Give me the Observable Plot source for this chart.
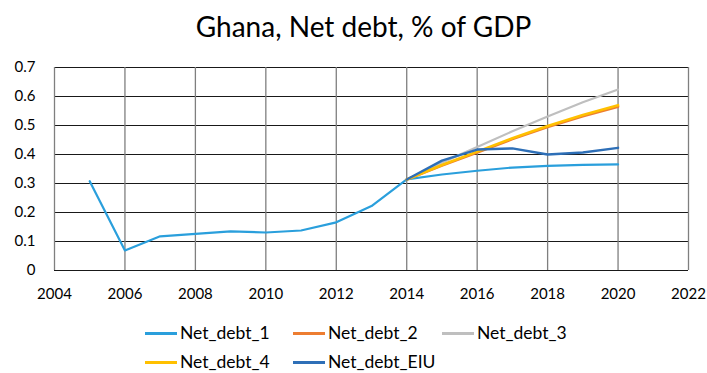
<!DOCTYPE html>
<html>
<head>
<meta charset="utf-8">
<script src="https://cdn.jsdelivr.net/npm/d3@7"></script>
<script src="https://cdn.jsdelivr.net/npm/@observablehq/plot@0.6"></script>
<style>
  html, body { margin: 0; padding: 0; background: #fff; }
  body { width: 707px; height: 373px; overflow: hidden; font-family: Lato, "Open Sans", sans-serif; }
  #title { height: 50px; line-height: 52px; text-align: center; font-size: 28px; color: #000; padding-left: 20px; box-sizing: border-box; }
  #legend { position: relative; height: 61px; }
  .item { position: absolute; display: flex; align-items: center; font-size: 17.5px; line-height: 20px; color: #000; height: 26px; }
  .sw { width: 32px; height: 3px; margin-right: 3px; }
</style>
</head>
<body>
<div id="title">Ghana, Net debt, % of GDP</div>
<div id="chart"></div>
<div id="legend"></div>
<script>
const years1 = [2005, 2006, 2007, 2008, 2009, 2010, 2011, 2012, 2013, 2014, 2015, 2016, 2017, 2018, 2019, 2020];
const netDebt1 = [0.308, 0.069, 0.118, 0.126, 0.135, 0.131, 0.138, 0.166, 0.222, 0.314, 0.331, 0.344, 0.355, 0.361, 0.364, 0.366];
const yearsProj = [2014, 2015, 2016, 2017, 2018, 2019, 2020];
const netDebt2 = [0.314, 0.362, 0.407, 0.453, 0.495, 0.532, 0.565];
const netDebt3 = [0.314, 0.372, 0.426, 0.480, 0.531, 0.580, 0.624];
const netDebt4 = [0.314, 0.364, 0.410, 0.456, 0.498, 0.536, 0.570];
const netDebtEIU = [0.314, 0.379, 0.417, 0.421, 0.400, 0.407, 0.423];
const seriesNames = ["Net_debt_1", "Net_debt_2", "Net_debt_3", "Net_debt_4", "Net_debt_EIU"];
const seriesColors = ["#2a9fdc", "#ed7d31", "#bfbfbf", "#ffc000", "#2e6fb7"];
const xTicks = [2004, 2006, 2008, 2010, 2012, 2014, 2016, 2018, 2020, 2022];
const yTicks = [0, 0.1, 0.2, 0.3, 0.4, 0.5, 0.6, 0.7];

const rows = [];
years1.forEach((y, i) => rows.push({series: seriesNames[0], year: y, value: netDebt1[i]}));
const proj = [netDebt2, netDebt3, netDebt4, netDebtEIU];
[1, 2, 3, 4].forEach(k => {
  const arr = proj[k - 1];
  yearsProj.forEach((y, i) => rows.push({series: seriesNames[k], year: y, value: arr[i]}));
});
const widths = {"Net_debt_1": 2.2, "Net_debt_2": 2.6, "Net_debt_3": 2.2, "Net_debt_4": 2.6, "Net_debt_EIU": 2.4};

const marks = [
  Plot.ruleY(yTicks, {stroke: "#000", strokeWidth: 1, strokeOpacity: 0.9}),
  Plot.ruleX(xTicks, {stroke: "#7f7f7f", strokeWidth: 1.3}),
  Plot.axisX({ticks: xTicks, tickSize: 0, tickPadding: 18, tickFormat: d => String(d), fontSize: 15}),
  Plot.axisY({ticks: yTicks, tickSize: 0, tickPadding: 19, tickFormat: d => d === 0 ? "0" : d3.format(".1f")(d), fontSize: 15}),
];
["Net_debt_1", "Net_debt_3", "Net_debt_2", "Net_debt_4", "Net_debt_EIU"].forEach(name => {
  marks.push(Plot.line(rows.filter(r => r.series === name), {
    x: "year", y: "value",
    stroke: seriesColors[seriesNames.indexOf(name)],
    strokeWidth: widths[name]
  }));
});

const chart = Plot.plot({
  width: 707,
  height: 262,
  marginTop: 17,
  marginBottom: 42,
  marginLeft: 54,
  marginRight: 19,
  style: {fontFamily: "Lato, 'Open Sans', sans-serif", fontSize: "15px", color: "#000", background: "#fff"},
  x: {domain: [2004, 2022], label: null},
  y: {domain: [0, 0.7], label: null},
  marks
});
document.getElementById("chart").appendChild(chart);

const legend = document.getElementById("legend");
const pos = [[145, 8], [293, 8], [442, 8], [145, 37], [293, 37]];
seriesNames.forEach((name, i) => {
  const d = document.createElement("div");
  d.className = "item";
  d.style.left = pos[i][0] + "px";
  d.style.top = pos[i][1] + "px";
  d.innerHTML = `<span class="sw" style="background:${seriesColors[i]}"></span><span>${name}</span>`;
  legend.appendChild(d);
});
</script>
</body>
</html>
